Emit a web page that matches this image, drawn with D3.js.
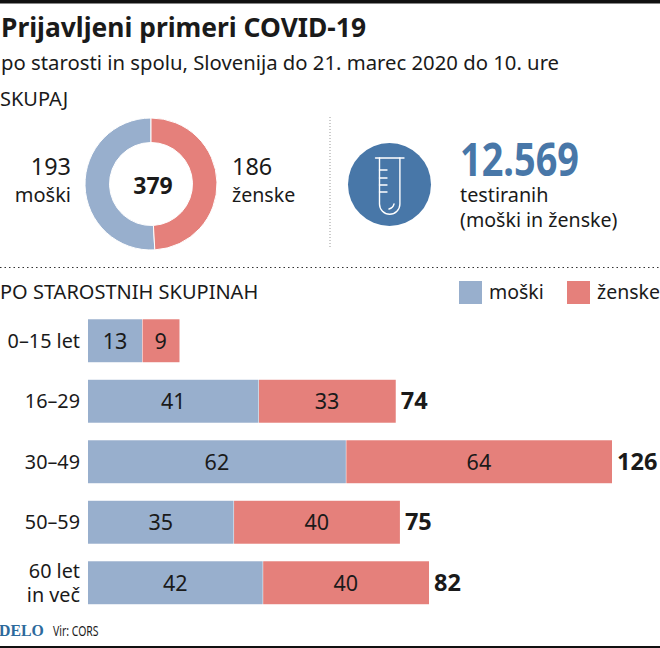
<!DOCTYPE html>
<html lang="en">
<head>
<meta charset="utf-8">
<title>Prijavljeni primeri COVID-19</title>
<script src="https://cdnjs.cloudflare.com/ajax/libs/d3/7.8.5/d3.min.js"></script>
<style>
    html, body { margin: 0; padding: 0; background: #fff; }
    svg { display: block; }
    text { font-family: "Noto Sans", sans-serif; fill: #1a1a1a; }
</style>
</head>
<body>
<script>
var groups = ["0–15 let", "16–29", "30–49", "50–59", "60 let|in več"];
var men = [13, 41, 62, 35, 42];
var women = [9, 33, 64, 40, 40];
var totals = [null, 74, 126, 75, 82];
var genderLabels = ["moški", "ženske"];
var genderTotals = [193, 186];
var allCases = 379;
var tested = "12.569";

var blue = "#98afcd", red = "#e5807b", darkBlue = "#4877a8";

var svg = d3.select("body").append("svg").attr("width", 660).attr("height", 648);

function label(x, y, str, size, weight, anchor) {
    return svg.append("text").attr("x", x).attr("y", y).text(str)
        .style("font-size", size + "px")
        .style("font-weight", weight || 400)
        .attr("text-anchor", anchor || "start");
}

// frame lines
svg.append("rect").attr("width", 660).attr("height", 3.5).attr("fill", "#111");
svg.append("rect").attr("y", 646).attr("width", 660).attr("height", 2).attr("fill", "#111");

label(1, 37, "Prijavljeni primeri COVID-19", 26.4, 700);
label(1, 69.5, "po starosti in spolu, Slovenija do 21. marec 2020 do 10. ure", 20.3);
label(0, 106, "SKUPAJ", 20);

// donut
var pie = d3.pie().sort(null).startAngle(2 * Math.PI).endAngle(0);
var arc = d3.arc().innerRadius(41.5).outerRadius(66);
var donut = svg.append("g").attr("transform", "translate(151,184)");
donut.selectAll("path").data(pie(genderTotals)).enter().append("path")
    .attr("d", arc)
    .attr("fill", function(d, i) { return i == 0 ? blue : red; })
    .attr("stroke", "#fff").attr("stroke-width", 1);

label(153, 193.5, allCases, 23, 700, "middle");
label(71, 174.5, genderTotals[0], 23.4, 400, "end");
label(71, 201.5, genderLabels[0], 20, 400, "end");
label(232, 174.5, genderTotals[1], 23.4, 400);
label(232, 201.5, genderLabels[1], 19.6, 400);

// dotted separators
svg.append("line").attr("x1", 330).attr("x2", 330).attr("y1", 117).attr("y2", 247)
    .attr("stroke", "#999").attr("stroke-width", 1).attr("stroke-dasharray", "1 2");
svg.append("line").attr("x1", 0).attr("x2", 660).attr("y1", 267.5).attr("y2", 267.5)
    .attr("stroke", "#333").attr("stroke-width", 1.2).attr("stroke-dasharray", "1.5 3");

// test tube icon
svg.append("circle").attr("cx", 389.5).attr("cy", 184.5).attr("r", 41.5).attr("fill", darkBlue);
var tube = svg.append("g").attr("fill", "none").attr("stroke", "#fff").attr("stroke-width", 1.4)
    .attr("stroke-linecap", "round");
tube.append("path").attr("d", "M375.5 158H404");
tube.append("path").attr("d", "M379.5 158V204a10.2 10.2 0 0 0 20.4 0V158");
tube.append("path").attr("d", "M379.5 170H387M379.5 178H387M379.5 185H387M379.5 192H387");
tube.append("path").attr("d", "M389 209q4 -1 5 -5");

// big number, condensed
svg.append("text").text(tested)
    .attr("transform", "translate(460,176) scale(0.806,1)")
    .style("font-size", "47px").style("font-weight", 700).style("fill", darkBlue);
label(460, 202, "testiranih", 19.8);
label(460, 227, "(moški in ženske)", 19.6);

label(0, 299, "PO STAROSTNIH SKUPINAH", 20);

// legend
svg.append("rect").attr("x", 459).attr("y", 281).attr("width", 23).attr("height", 23).attr("fill", blue);
label(489, 299, genderLabels[0], 19.5);
svg.append("rect").attr("x", 567).attr("y", 281).attr("width", 23).attr("height", 23).attr("fill", red);
label(597, 299, genderLabels[1], 19.5);

// stacked bars
var x = d3.scaleLinear().domain([0, 126]).range([88, 612]);
var y = d3.scaleBand().domain(groups).range([310.5, 613]).paddingInner(0.29).paddingOuter(0.145);

var rows = svg.selectAll("g.row").data(groups).enter().append("g").attr("class", "row")
    .attr("transform", function(d) { return "translate(0," + y(d) + ")"; });

rows.append("rect").attr("x", x(0))
    .attr("width", function(d, i) { return x(men[i]) - x(0); })
    .attr("height", y.bandwidth()).attr("fill", blue);
rows.append("rect").attr("x", function(d, i) { return x(men[i]) + 0.5; })
    .attr("width", function(d, i) { return x(men[i] + women[i]) - x(men[i]) - 0.5; })
    .attr("height", y.bandwidth()).attr("fill", red);

var mid = y.bandwidth() / 2 + 8;
rows.append("text").attr("x", function(d, i) { return (x(0) + x(men[i])) / 2; })
    .attr("y", mid).attr("text-anchor", "middle").style("font-size", "21.5px")
    .text(function(d, i) { return men[i]; });
rows.append("text").attr("x", function(d, i) { return (x(men[i]) + x(men[i] + women[i])) / 2; })
    .attr("y", mid).attr("text-anchor", "middle").style("font-size", "21.5px")
    .text(function(d, i) { return women[i]; });
rows.append("text").attr("x", function(d, i) { return x(men[i] + women[i]) + 5; })
    .attr("y", mid).style("font-size", "23.5px").style("font-weight", 700)
    .text(function(d, i) { return totals[i]; });

// row labels, two lines where the name has a |
rows.each(function(d) {
    var parts = d.split("|");
    var g = d3.select(this);
    parts.forEach(function(p, k) {
        var yy = parts.length == 1 ? mid - 1 : mid - 13 + k * 24;
        g.append("text").attr("x", 80).attr("y", yy).attr("text-anchor", "end")
            .style("font-size", "19.8px").text(p);
    });
});

// footer
svg.append("text").attr("x", -1).attr("y", 636).text("DELO")
    .style("font-family", "'Liberation Serif', serif").style("font-size", "15.8px")
    .style("font-weight", 700).style("fill", "#2c6a9c");
svg.append("text").text("Vir: CORS").attr("transform", "translate(53,636) scale(0.72,1)")
    .style("font-size", "14.5px");
</script>
</body>
</html>
